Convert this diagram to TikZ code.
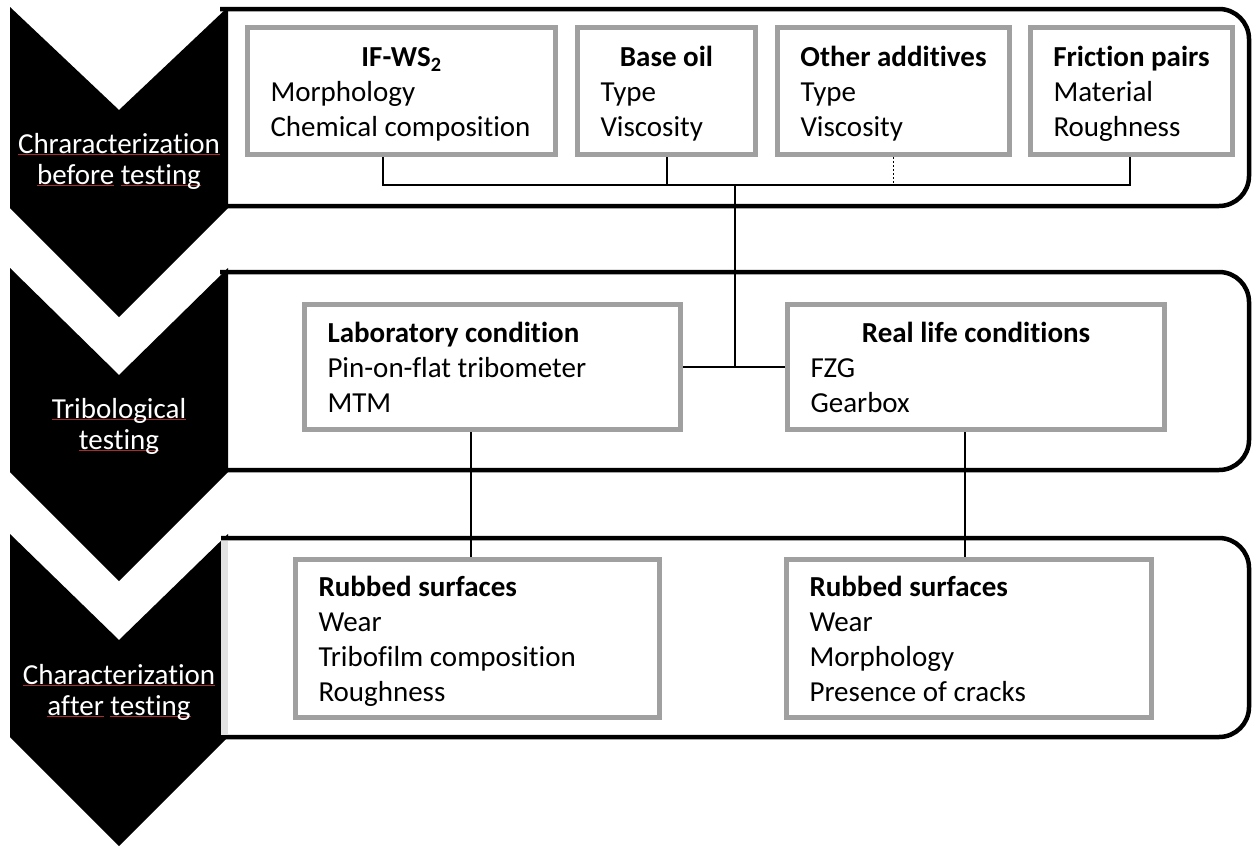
\documentclass[tikz,border=0pt]{standalone}
\usepackage{fontspec}
\setmainfont[Ligatures=NoCommon]{Carlito}
\usepackage{tikz}
\usetikzlibrary{calc}
\definecolor{boxgray}{RGB}{160,160,160}
\definecolor{edgegray}{RGB}{226,226,226}
\definecolor{spellred}{RGB}{170,45,45}
\newsavebox\spellbox
\newcommand\spellul[1]{\sbox\spellbox{#1}\rlap{\textcolor{spellred}{\rule[-0.08em]{\wd\spellbox}{0.045em}}}\usebox\spellbox}

\begin{document}
\begin{tikzpicture}[x=1pt, y=-1pt,
  gbox/.style={draw=boxgray, line width=5pt, fill=white, inner xsep=23pt, inner ysep=0pt,
    align=flush left, font=\fontsize{29}{35}\selectfont,
    execute at begin node=\rule{0pt}{32pt}, execute at end node=\strut},
  stage/.style={text=white, align=center, font=\fontsize{29}{31}\selectfont},
  panel/.style={line width=4.5pt, rounded corners=30pt},
  link/.style={line width=2pt}]
  \useasboundingbox (0,0) rectangle (1258,846);
  % frames behind the chevrons
  \draw[panel] (220,9) -- (1249,9) -- (1249,206) -- (220,206);
  \draw[panel] (220,272) -- (1249,272) -- (1249,470) -- (220,470);
  % chevrons
  \fill (10,7) -- (119,110) -- (228,7) -- (228,208) -- (119,317) -- (10,208) -- cycle;
  \fill (10,268) -- (119,375) -- (228,268) -- (228,472) -- (119,581) -- (10,472) -- cycle;
  \fill (10,534) -- (119,640) -- (228,534) -- (228,737) -- (119,846) -- (10,737) -- cycle;
  % third frame sits over its chevron
  \draw[panel, fill=white] (221,538) -- (1249,538) -- (1249,737) -- (221,737);
  \fill[edgegray] (221,541) rectangle (228,735);

  \node[stage] (before) at (119,161) {\spellul{Chraracterization}\\\spellul{before} \spellul{testing}};
  \node[stage] (tribo) at (119,426) {\spellul{Tribological}\\\spellul{testing}};
  \node[stage] (after) at (119,692) {\spellul{Characterization}\\\spellul{after} \spellul{testing}};

  % inputs
  \node[gbox, text width=262pt, minimum height=127pt] (ifws) at (401.5,91)
    {\makebox[\linewidth]{\bfseries IF-WS\textsubscript{2}}\\Morphology\\Chemical composition};
  \node[gbox, text width=132pt, minimum height=127pt] (oil) at (666.5,91)
    {\makebox[\linewidth]{\bfseries Base oil}\\Type\\Viscosity};
  \node[gbox, text width=186pt, minimum height=127pt] (addit) at (893.5,91)
    {\makebox[\linewidth]{\bfseries Other additives}\\Type\\Viscosity};
  \node[gbox, text width=156pt, minimum height=127pt] (pairs) at (1131.5,91)
    {\makebox[\linewidth]{\bfseries Friction pairs}\\Material\\Roughness};

  % tests
  \node[gbox, text width=330pt, minimum height=125pt] (lab) at (492.5,367)
    {\textbf{Laboratory condition}\\Pin-on-flat tribometer\\MTM};
  \node[gbox, text width=331pt, minimum height=125pt] (real) at (976,367)
    {\makebox[\linewidth]{\bfseries Real life conditions}\\FZG\\Gearbox};

  % after testing
  \node[gbox, text width=318pt, minimum height=158pt] (rubL) at (477.5,638.5)
    {\textbf{Rubbed surfaces}\\Wear\\Tribofilm composition\\Roughness};
  \node[gbox, text width=319pt, minimum height=158pt] (rubR) at (969,638.5)
    {\textbf{Rubbed surfaces}\\Wear\\Morphology\\Presence of cracks};

  \coordinate (busL) at (383,185);
  \coordinate (busR) at (1130,185);
  \coordinate (hub) at (735,185);
  \coordinate (labdrop) at (471,0);
  \coordinate (realdrop) at (965,0);
  \draw[link] (ifws.south -| busL) -- (busL) -- (busR) -- (pairs.south -| busR);
  \draw[link] (oil.south) -- (oil.south |- busL);
  \draw[line width=1.5pt, dash pattern=on 2pt off 2pt] (addit.south) -- (addit.south |- busL);
  \draw[link] (hub) -- (hub |- lab.east);
  \draw[link] (lab.east) -- (real.west);
  \draw[link] (lab.south -| labdrop) -- (rubL.north -| labdrop);
  \draw[link] (real.south -| realdrop) -- (rubR.north -| realdrop);
\end{tikzpicture}
\end{document}
